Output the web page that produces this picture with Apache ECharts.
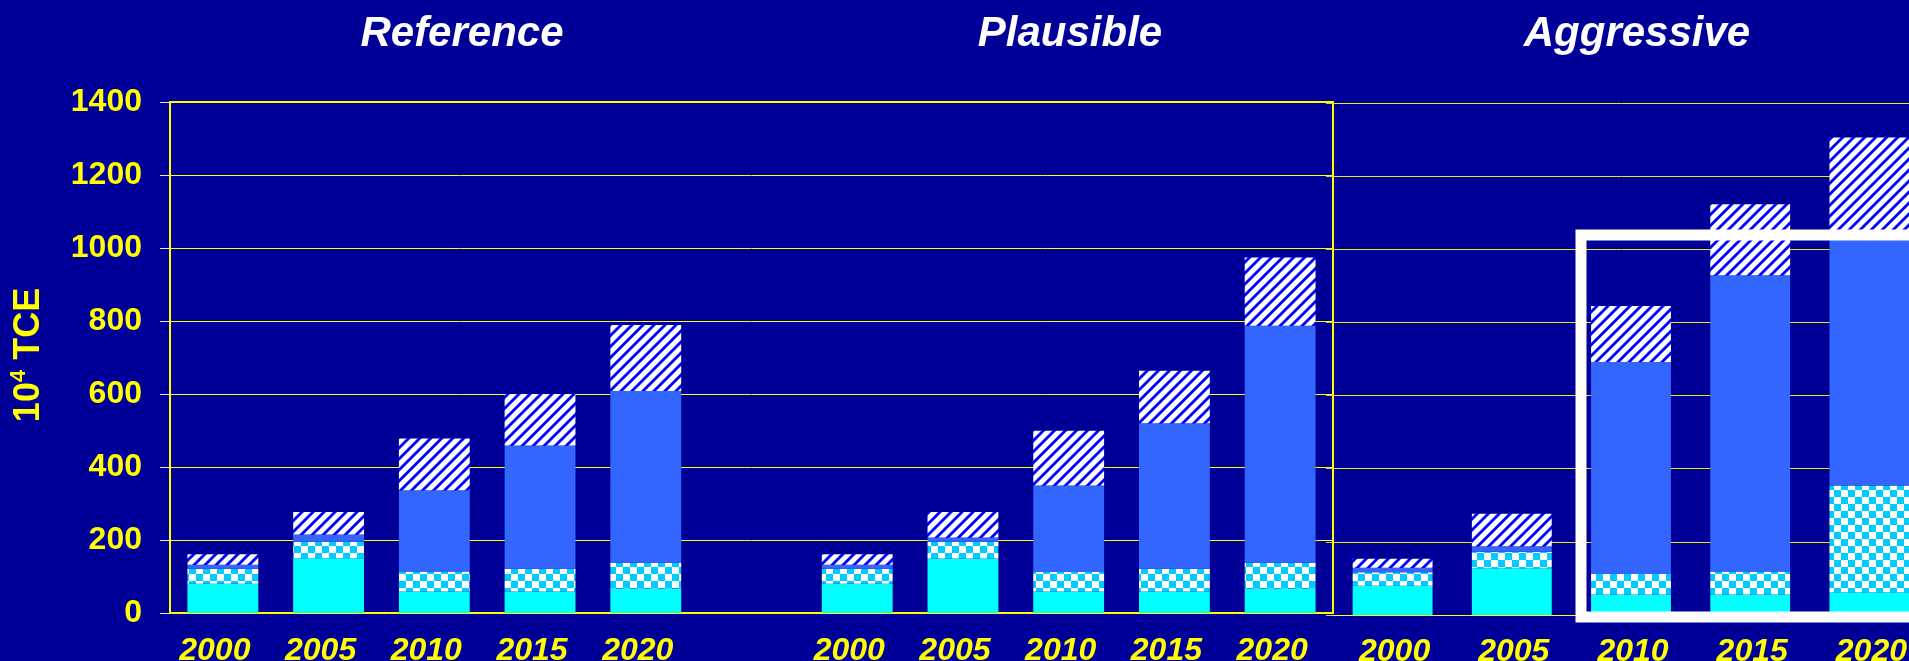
<!DOCTYPE html>
<html>
<head>
<meta charset="utf-8">
<script src="https://cdn.jsdelivr.net/npm/echarts@6/dist/echarts.min.js"></script>
<style>
html,body{margin:0;padding:0;background:#000099;}
#c{width:1909px;height:661px;}
</style>
</head>
<body>
<div id="c"></div>
<script>
// ---- data ----
const refYears = ['2000','2005','2010','2015','2020'];
const plaYears = ['2000','2005','2010','2015','2020'];
const aggYears = ['2000','2005','2010','2015','2020'];
const groupTitles = ['Reference','Plausible','Aggressive'];
const yMin = 0, yMax = 1400, yStep = 200;

const refCyan  = [80, 150, 59, 59, 67];
const refCheck = [41, 45, 55, 62, 71];
const refBlue  = [11, 20, 222, 338, 470];
const refHatch = [29, 62, 142, 141, 181];

const plaCyan  = [80, 149, 59, 59, 67];
const plaCheck = [41, 46, 53, 62, 71];
const plaBlue  = [11, 12, 237, 399, 649];
const plaHatch = [29, 70, 150, 144, 187];

const aggCyan  = [80, 128, 56, 56, 62];
const aggCheck = [37, 45, 56, 63, 292];
const aggBlue  = [12, 15, 580, 810, 691];
const aggHatch = [25, 89, 153, 194, 261];

// ---- patterns ----
function hatchPattern(){
  const s = 11, c = document.createElement('canvas');
  c.width = s; c.height = s;
  const g = c.getContext('2d');
  g.fillStyle = '#ffffff'; g.fillRect(0,0,s,s);
  g.strokeStyle = '#0000ff'; g.lineWidth = 2.8;
  [[-s,s,s,-s],[0,s,s,0],[0,2*s,2*s,0]].forEach(function(l){
    g.beginPath(); g.moveTo(l[0], l[1]); g.lineTo(l[2], l[3]); g.stroke();
  });
  return {image: c, repeat: 'repeat'};
}
function checkPattern(){
  const s = 14, h = 7, c = document.createElement('canvas');
  c.width = s; c.height = s;
  const g = c.getContext('2d');
  g.fillStyle = '#ffffff'; g.fillRect(0,0,s,s);
  g.fillStyle = '#00ccff';
  g.fillRect(0,0,h,h); g.fillRect(h,h,h,h);
  return {image: c, repeat: 'repeat'};
}
const HATCH = hatchPattern();
const CHECK = checkPattern();

const YELLOW = '#ffff00';
const FONT = '"Liberation Sans", Arial, sans-serif';

const leftCats = refYears.concat([''], plaYears);
function leftData(a, b){ return a.concat(['-'], b); }

function mkSeries(name, xi, yi, data, color, stack){
  return {
    type: 'bar', name: name, xAxisIndex: xi, yAxisIndex: yi, stack: stack,
    data: data, barWidth: '67%',
    itemStyle: {color: color},
    emphasis: {disabled: true},
    animation: false
  };
}

const chart = echarts.init(document.getElementById('c'), null, {renderer: 'canvas'});
chart.setOption({
  backgroundColor: '#000099',
  animation: false,
  grid: [
    {left: 170, top: 102, width: 1163, height: 511, show: true, borderColor: YELLOW, borderWidth: 2,
     backgroundColor: 'transparent', outerBoundsMode: 'none', containLabel: false},
    {left: 1333, top: 103, width: 596, height: 512, show: false, outerBoundsMode: 'none', containLabel: false}
  ],
  xAxis: [
    {type: 'category', gridIndex: 0, data: leftCats,
     axisLine: {lineStyle: {color: YELLOW, width: 2}}, axisTick: {show: false},
     splitLine: {show: false},
     axisLabel: {color: YELLOW, fontSize: 32, fontWeight: 'bold', fontStyle: 'italic', fontFamily: FONT, margin: 22, padding: [0, 16, 0, 0], interval: 0}},
    {type: 'category', gridIndex: 1, data: aggYears,
     axisLine: {lineStyle: {color: YELLOW, width: 1}}, axisTick: {show: false},
     splitLine: {show: false},
     axisLabel: {color: YELLOW, fontSize: 32, fontWeight: 'bold', fontStyle: 'italic', fontFamily: FONT, margin: 21, padding: [0, 0, 0, 4], interval: 0}}
  ],
  yAxis: [
    {type: 'value', gridIndex: 0, min: yMin, max: yMax, interval: yStep,
     axisLine: {show: true, lineStyle: {color: YELLOW, width: 2}},
     axisTick: {show: true, length: 10, lineStyle: {color: '#e8e8e8', width: 1}},
     splitLine: {show: true, lineStyle: {color: [YELLOW], width: 1, opacity: 1, type: 'solid'}},
     axisLabel: {color: YELLOW, fontSize: 32, fontWeight: 'bold', fontFamily: FONT, margin: 28,
       formatter: function(v){ return String(v); }}},
    {type: 'value', gridIndex: 1, min: yMin, max: yMax, interval: yStep,
     axisLine: {show: false},
     axisTick: {show: true, length: 7, lineStyle: {color: '#d8d430', width: 1}},
     splitLine: {show: true, lineStyle: {color: ['#eeea10'], width: 1, opacity: 1, type: 'solid'}},
     axisLabel: {show: false}}
  ],
  series: [
    mkSeries('c', 0, 0, leftData(refCyan, plaCyan), '#00ffff', 'L'),
    mkSeries('k', 0, 0, leftData(refCheck, plaCheck), CHECK, 'L'),
    mkSeries('b', 0, 0, leftData(refBlue, plaBlue), '#3366ff', 'L'),
    mkSeries('h', 0, 0, leftData(refHatch, plaHatch), HATCH, 'L'),
    mkSeries('c2', 1, 1, aggCyan, '#00ffff', 'R'),
    mkSeries('k2', 1, 1, aggCheck, CHECK, 'R'),
    mkSeries('b2', 1, 1, aggBlue, '#3366ff', 'R'),
    mkSeries('h2', 1, 1, aggHatch, HATCH, 'R')
  ],
  graphic: [
    {type: 'text', x: 462, y: 34, z: 10, style: {text: groupTitles[0], fill: '#ffffff', font: 'italic bold 42px ' + FONT, align: 'center', verticalAlign: 'middle'}},
    {type: 'text', x: 1070, y: 34, z: 10, style: {text: groupTitles[1], fill: '#ffffff', font: 'italic bold 42px ' + FONT, align: 'center', verticalAlign: 'middle'}},
    {type: 'text', x: 1637, y: 34, z: 10, style: {text: groupTitles[2], fill: '#ffffff', font: 'italic bold 42px ' + FONT, align: 'center', verticalAlign: 'middle'}},
    {type: 'text', x: 29, y: 355, rotation: Math.PI / 2, z: 10,
     style: {text: '{a|10}{b|4}{a| TCE}', align: 'center', verticalAlign: 'middle',
       rich: {
         a: {fill: YELLOW, fontSize: 36, fontWeight: 'bold', fontFamily: FONT, lineHeight: 42},
         b: {fill: YELLOW, fontSize: 22, fontWeight: 'bold', fontFamily: FONT, lineHeight: 22, verticalAlign: 'top'}
       }}},
    {type: 'rect', z: 100, shape: {x: 1581, y: 235, width: 420, height: 382},
     style: {fill: 'none', stroke: '#ffffff', lineWidth: 11}}
  ]
});
</script>
</body>
</html>
